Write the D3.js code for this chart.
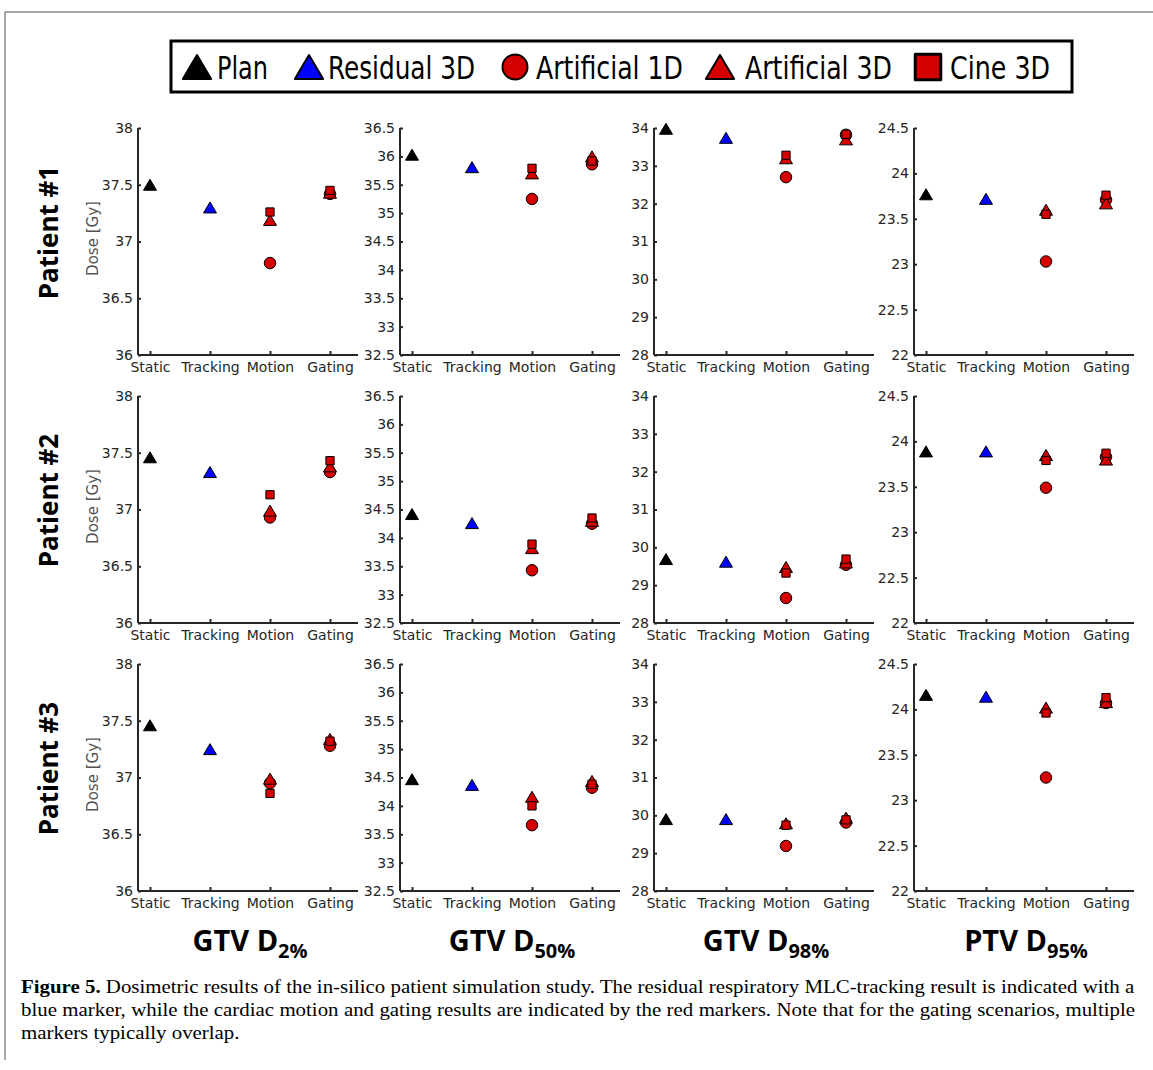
<!DOCTYPE html>
<html>
<head>
<meta charset="utf-8">
<script src="https://cdn.jsdelivr.net/npm/d3@7"></script>
<style>
  body { margin: 0; background: #fff; }
  svg { display: block; }
</style>
</head>
<body>
<svg width="1153" height="1070"></svg>
<script>
'use strict'

// ---- data ----
const categories = ['Static', 'Tracking', 'Motion', 'Gating']
const patients = ['Patient #1', 'Patient #2', 'Patient #3']
const metricNames = ['GTV D', 'GTV D', 'GTV D', 'PTV D']
const metricSubs = ['2%', '50%', '98%', '95%']
const yDomains = [[36, 38], [32.5, 36.5], [28, 34], [22, 24.5]]
const yTicks = [
  [36, 36.5, 37, 37.5, 38],
  [32.5, 33, 33.5, 34, 34.5, 35, 35.5, 36, 36.5],
  [28, 29, 30, 31, 32, 33, 34],
  [22, 22.5, 23, 23.5, 24, 24.5]
]

const seriesNames = ['Plan', 'Residual 3D', 'Artificial 1D', 'Artificial 3D', 'Cine 3D']
const seriesColors = ['#000000', '#0000ff', '#d40000', '#d40000', '#d40000']
const seriesShapes = ['triangle', 'triangle', 'circle', 'triangle', 'square']

// [row][col] -> dose at Static
const plan = [
  [37.50, 36.03, 33.98, 23.77],
  [37.46, 34.42, 29.69, 23.89],
  [37.46, 34.47, 29.90, 24.16]
]
// [row][col] -> dose at Tracking
const residual3D = [
  [37.30, 35.81, 33.74, 23.72],
  [37.33, 34.26, 29.62, 23.89],
  [37.25, 34.37, 29.90, 24.14]
]
// [row][col] -> [Motion, Gating]
const artificial1D = [
  [[36.81, 37.42], [35.25, 35.86], [32.70, 33.82], [23.03, 23.71]],
  [[36.93, 37.33], [33.43, 34.25], [28.66, 29.54], [23.49, 23.83]],
  [[36.95, 37.28], [33.66, 34.32], [29.19, 29.81], [23.25, 24.07]]
]
const artificial3D = [
  [[37.19, 37.43], [35.70, 36.00], [33.20, 33.70], [23.60, 23.67]],
  [[36.99, 37.38], [33.82, 34.30], [29.48, 29.60], [23.85, 23.80]],
  [[36.99, 37.34], [34.16, 34.44], [29.79, 29.94], [24.02, 24.08]]
]
const cine3D = [
  [[37.26, 37.45], [35.79, 35.92], [33.28, 33.83], [23.55, 23.76]],
  [[37.13, 37.43], [33.89, 34.35], [29.32, 29.69], [23.79, 23.87]],
  [[36.86, 37.32], [34.00, 34.38], [29.74, 29.88], [23.96, 24.13]]
]

const captionBold = 'Figure 5.'
const captionLines = [
  ' Dosimetric results of the in-silico patient simulation study. The residual respiratory MLC-tracking result is indicated with a',
  'blue marker, while the cardiac motion and gating results are indicated by the red markers. Note that for the gating scenarios, multiple',
  'markers typically overlap.'
]

// ---- layout ----
const colX = [138, 400, 654, 914]
const rowY = [128, 396, 664]
const plotW = 220
const plotH = 227
const axisColor = '#262626'

const svg = d3.select('body svg')

const shapePath = (shape, size) => {
  if (shape === 'triangle') {
    const w = size * 1.18
    const h = size
    return `M0,${-h / 2}L${w / 2},${h / 2}L${-w / 2},${h / 2}Z`
  }
  if (shape === 'square') {
    const s = size * 0.75
    return `M${-s / 2},${-s / 2}H${s / 2}V${s / 2}H${-s / 2}Z`
  }
  const r = size / 2
  return `M${r},0A${r},${r} 0 1,1 ${-r},0A${r},${r} 0 1,1 ${r},0Z`
}

// frame
svg.append('path')
  .attr('d', 'M1153,12H5V1060')
  .attr('fill', 'none')
  .attr('stroke', '#8c8c8c')
  .attr('stroke-width', 1.5)

// legend
const legendG = svg.append('g').classed('legend', true)
legendG.append('rect')
  .attr('x', 171).attr('y', 41)
  .attr('width', 901).attr('height', 51)
  .attr('fill', '#fff')
  .attr('stroke', '#000')
  .attr('stroke-width', 3)
const legendMarkerX = [197, 309, 515, 720, 928]
const legendTextX = [217, 328, 536, 745, 950]
const legendTextW = [51, 147, 147, 147, 100]
seriesNames.forEach((name, i) => {
  const size = seriesShapes[i] === 'circle' ? 25 : (seriesShapes[i] === 'square' ? 34 : 24)
  legendG.append('path')
    .attr('d', shapePath(seriesShapes[i], size))
    .attr('transform', `translate(${legendMarkerX[i]}, 67)`)
    .attr('fill', seriesColors[i])
    .attr('stroke', '#000')
    .attr('stroke-width', seriesShapes[i] === 'square' ? 3 : 2)
    .attr('stroke-linejoin', 'round')
  legendG.append('text')
    .attr('x', legendTextX[i]).attr('y', 79)
    .attr('font-family', '"DejaVu Sans Condensed", "DejaVu Sans", sans-serif')
    .attr('font-size', 32)
    .attr('fill', '#000')
    .attr('textLength', legendTextW[i])
    .attr('lengthAdjust', 'spacingAndGlyphs')
    .text(name)
})

// panels
patients.forEach((patient, r) => {
  // row label
  svg.append('text')
    .attr('transform', `translate(58, ${rowY[r] + plotH / 2 - 9}) rotate(-90)`)
    .attr('text-anchor', 'middle')
    .attr('font-family', '"Open Sans", sans-serif')
    .attr('font-weight', 'bold')
    .attr('font-size', 26)
    .attr('fill', '#000')
    .text(patient)

  yDomains.forEach((dom, c) => {
    const g = svg.append('g')
      .classed('panel', true)
      .attr('transform', `translate(${colX[c]}, ${rowY[r]})`)

    const x = d3.scalePoint().domain(categories).range([12, 192])
    const y = d3.scaleLinear().domain(dom).range([plotH, 0])

    const yAxis = d3.axisLeft(y)
      .tickValues(yTicks[c])
      .tickFormat(d3.format('~g'))
      .tickSize(-3)
      .tickSizeOuter(0)
      .tickPadding(5)
    const xAxis = d3.axisBottom(x)
      .tickSize(-4)
      .tickSizeOuter(0)
      .tickPadding(7)

    const yG = g.append('g').classed('yAxis', true).call(yAxis)
    const xG = g.append('g').classed('xAxis', true)
      .attr('transform', `translate(0, ${plotH})`)
      .call(xAxis)
    xG.select('path.domain').attr('d', `M0,0H${plotW}`)
    yG.select('path.domain').attr('d', `M0,0V${plotH}`)

    ;[xG, yG].forEach((ax) => {
      ax.select('path.domain').attr('stroke', axisColor).attr('stroke-width', 2)
      ax.selectAll('g.tick line').attr('stroke', axisColor).attr('stroke-width', 2)
      ax.selectAll('g.tick text')
        .attr('fill', axisColor)
        .attr('font-family', '"DejaVu Sans", sans-serif')
        .attr('font-size', 14)
    })

    if (c === 0) {
      g.append('text')
        .attr('transform', `translate(-40, ${plotH / 2 - 3}) rotate(-90)`)
        .attr('text-anchor', 'middle')
        .attr('font-family', '"DejaVu Sans", sans-serif')
        .attr('font-size', 15)
        .attr('fill', '#555')
        .text('Dose [Gy]')
    }

    const points = [
      { s: 0, cat: 'Static', v: plan[r][c] },
      { s: 1, cat: 'Tracking', v: residual3D[r][c] },
      { s: 2, cat: 'Motion', v: artificial1D[r][c][0] },
      { s: 2, cat: 'Gating', v: artificial1D[r][c][1] },
      { s: 3, cat: 'Motion', v: artificial3D[r][c][0] },
      { s: 3, cat: 'Gating', v: artificial3D[r][c][1] },
      { s: 4, cat: 'Motion', v: cine3D[r][c][0] },
      { s: 4, cat: 'Gating', v: cine3D[r][c][1] }
    ]

    g.selectAll('path.marker')
      .data(points)
      .enter()
      .append('path').classed('marker', true)
      .attr('d', (d) => shapePath(seriesShapes[d.s], seriesShapes[d.s] === 'circle' ? 11.5 : 11))
      .attr('transform', (d) => `translate(${x(d.cat)}, ${y(d.v)})`)
      .attr('fill', (d) => seriesColors[d.s])
      .attr('stroke', '#000')
      .attr('stroke-width', 1)
  })
})

// column titles
metricNames.forEach((name, c) => {
  const t = svg.append('text')
    .attr('x', colX[c] + 112)
    .attr('y', 951)
    .attr('text-anchor', 'middle')
    .attr('font-family', '"Open Sans", sans-serif')
    .attr('font-weight', 'bold')
    .attr('font-size', 29)
    .attr('fill', '#000')
  t.append('tspan').text(name)
  t.append('tspan')
    .attr('font-size', 20)
    .attr('dy', 7)
    .text(metricSubs[c])
})

// caption: narrow serif, first two lines justified to the full width
const capFont = '"Liberation Serif", "DejaVu Serif", serif'
const capLeft = 21
const capFullW = 1114
const capG = svg.append('g').classed('caption', true)
const capTexts = captionLines.map((line, i) => {
  const t = capG.append('text')
    .attr('x', 0)
    .attr('y', 993 + i * 23)
    .attr('font-family', capFont)
    .attr('font-size', 19)
    .attr('fill', '#000')
  if (i === 0) {
    t.append('tspan').attr('font-weight', 'bold').text(captionBold)
  }
  t.append('tspan').text(line)
  return t
})
const squeeze = capFullW / capTexts[0].node().getComputedTextLength()
capG.attr('transform', `translate(${capLeft}, 0) scale(${squeeze}, 1)`)
{
  const t = capTexts[1]
  const natural = t.node().getComputedTextLength()
  const spaces = (t.text().match(/ /g) || []).length
  t.attr('word-spacing', (capFullW / squeeze - natural) / spaces)
}
</script>
</body>
</html>
